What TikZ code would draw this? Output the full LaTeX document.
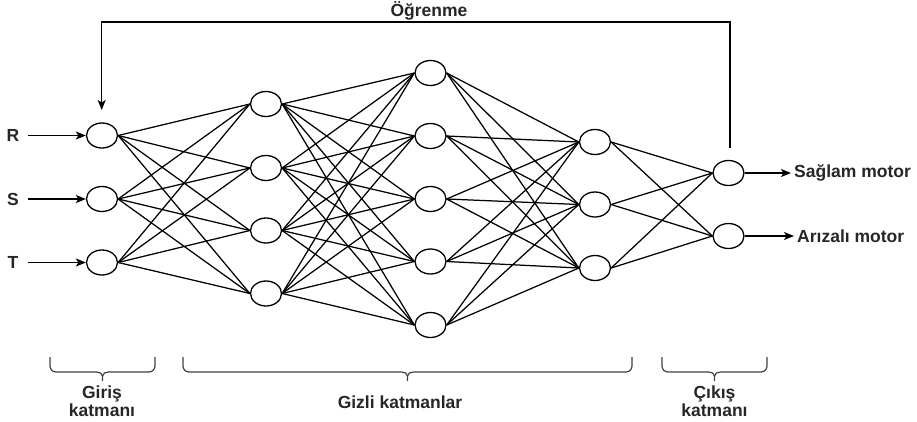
\documentclass[tikz,border=0pt]{standalone}
\usepackage{fontspec}
\setmainfont{Liberation Sans}
\usetikzlibrary{shapes.geometric,arrows.meta}
\begin{document}
\begin{tikzpicture}[x=1pt,y=-1pt,
  neuron/.style={draw,ellipse,minimum width=31pt,minimum height=25pt,inner sep=0pt,line width=1.3pt,fill=white},
  link/.style={line width=1.25pt},
  arr/.style={line width=1.4pt,-{Stealth[length=10pt,width=8pt,inset=2.5pt]}},
  lbl/.style={font=\fontsize{17.5}{18}\selectfont\bfseries,inner sep=0pt,text=black!85},
  brc/.style={line width=1.2pt,draw=black!75}]
\useasboundingbox (0,0) rectangle (917,421);
% layers
\foreach \y [count=\i] in {135.5,199,262.5} \node[neuron] (i\i) at (102,\y) {};
\foreach \y [count=\i] in {104,168,230.5,293.5} \node[neuron] (a\i) at (266,\y) {};
\foreach \y [count=\i] in {73,136,199,261.5,325} \node[neuron] (b\i) at (430.5,\y) {};
\foreach \y [count=\i] in {142,204.5,268} \node[neuron] (c\i) at (595,\y) {};
\foreach \y [count=\i] in {173,236} \node[neuron] (o\i) at (728.5,\y) {};
% connections
\foreach \s in {1,2,3} \foreach \t in {1,2,3,4} \draw[link] (i\s.east) -- (a\t.west);
\foreach \s in {1,2,3,4} \foreach \t in {1,2,3,4,5} \draw[link] (a\s.east) -- (b\t.west);
\foreach \s in {1,2,3,4,5} \foreach \t in {1,2,3} \draw[link] (b\s.east) -- (c\t.west);
\foreach \s in {1,2,3} \foreach \t in {1,2} \draw[link] (c\s.east) -- (o\t.west);
% inputs
\node[lbl] (lR) at (13,135.5) {R};
\node[lbl] (lS) at (13,199) {S};
\node[lbl] (lT) at (13,262.5) {T};
\coordinate (sR) at (28,135.5);
\coordinate (sS) at (28,199);
\coordinate (sT) at (28,262.5);
\draw[arr] (sR) -- (i1.west);
\draw[arr] (sS) -- (i2.west);
\draw[arr] (sT) -- (i3.west);
% outputs
\node[lbl,anchor=west,inner xsep=3pt] (out1) at (791,173) {Sağlam motor};
\node[lbl,anchor=west,inner xsep=3pt] (out2) at (794,236) {Arızalı motor};
\draw[arr] (o1.east) -- (out1.west);
\draw[arr] (o2.east) -- (out2.west);
% feedback
\coordinate (fb0) at (730,148);
\coordinate (fb1) at (730,22);
\coordinate (fb2) at (101.7,22);
\coordinate (fb3) at (101.7,110);
\draw[arr] (fb0) -- (fb1) -- (fb2) -- (fb3);
\node[lbl] (ogr) at (429,10.5) {Öğrenme};
% braces
\newcommand{\layerbrace}[3]{%
  \draw[brc] (#1,357) -- (#1,366) to[out=-90,in=180] (#1+6,372) -- (#3-6,372) to[out=0,in=90] (#3,376) -- (#3,381);
  \draw[brc] (#2,357) -- (#2,366) to[out=-90,in=0] (#2-6,372) -- (#3+6,372) to[out=180,in=90] (#3,376);}
\layerbrace{50}{155}{102.5}
\layerbrace{183}{632}{407.5}
\layerbrace{662}{767}{714.5}
\node[lbl,align=center] (giris) at (102,401) {Giriş\\katmanı};
\node[lbl] (gizli) at (400,402) {Gizli katmanlar};
\node[lbl,align=center] (cikis) at (714.5,401) {Çıkış\\katmanı};
\end{tikzpicture}
\end{document}
